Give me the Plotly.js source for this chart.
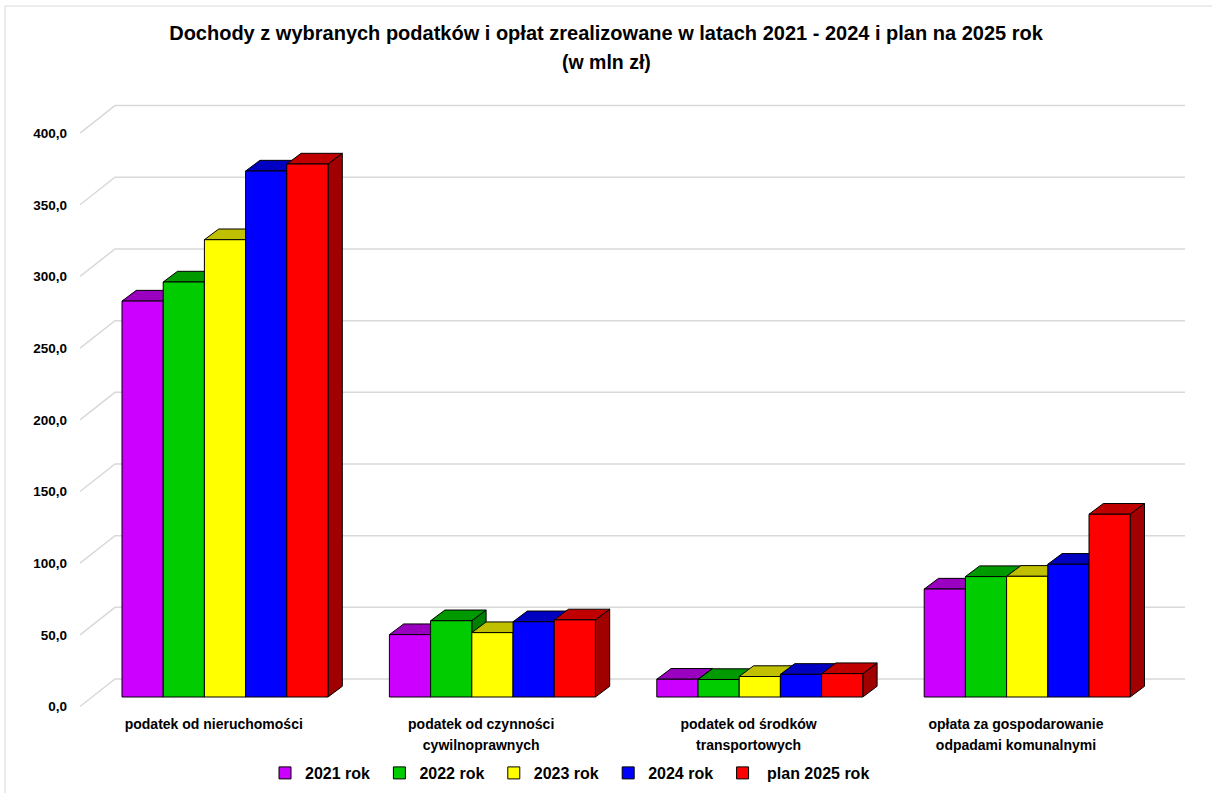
<!DOCTYPE html>
<html>
<head>
<meta charset="utf-8">
<script src="https://cdn.plot.ly/plotly-3.0.1.min.js"></script>
<style>
  html, body { margin: 0; padding: 0; background: #fff; }
  #chart { width: 1212px; height: 793px; }
</style>
</head>
<body>
<div id="chart"></div>
<script>
// ---------------- data ----------------
const categories = [
  'podatek od nieruchomości',
  'podatek od czynności cywilnoprawnych',
  'podatek od środków transportowych',
  'opłata za gospodarowanie odpadami komunalnymi'
];
const catLine1 = ['podatek od nieruchomości', 'podatek od czynności', 'podatek od środków', 'opłata za gospodarowanie'];
const catLine2 = ['', 'cywilnoprawnych', 'transportowych', 'odpadami komunalnymi'];

const seriesNames = ['2021 rok', '2022 rok', '2023 rok', '2024 rok', '\u00a0plan 2025 rok'];
const v2021 = [276.2, 43.5, 12.4, 75.3];
const v2022 = [289.5, 53.2, 12.2, 84.0];
const v2023 = [319.0, 44.9, 14.3, 84.2];
const v2024 = [366.9, 52.5, 15.8, 92.6];
const v2025 = [371.8, 53.8, 16.3, 127.5];
const seriesValues = [v2021, v2022, v2023, v2024, v2025];

const yTicks = [0, 50, 100, 150, 200, 250, 300, 350, 400];

// ---------------- styles / geometry ----------------
const frontColors = ['#CC00FF', '#00CC00', '#FFFF00', '#0000FF', '#FF0000'];
const topColors   = ['#9900BF', '#009900', '#C0C000', '#0000C0', '#C00000'];
const sideColors  = ['#80009F', '#008000', '#A0A000', '#0000A0', '#A00000'];
const FONT = 'Liberation Sans, Arial, sans-serif';

const W = 1212, H = 793;
const PL = 76, PR = 1190, PT = 90, PB = 712;      // plot area in px
const CAT_W = 267.4;                               // px per category
const CAT0 = 213.75;                               // px of first category centre (front plane)
const YS = 1.4335;                                 // px per unit
const ZERO_BAR = 697;                              // px of value 0 in bar plane

const xRange = [(PL - CAT0) / CAT_W, (PR - CAT0) / CAT_W];
const yRange = [(ZERO_BAR - PB) / YS, (ZERO_BAR - PT) / YS];

const BAR_DX = 11.25 / CAT_W;       // bar plane shift right vs front plane
const FRONT_DY = 9.5 / YS;          // front plane lower than bar plane
const BACK_DY = 18 / YS;            // back wall higher than bar plane
const FRONT_X = (80 - CAT0) / CAT_W;
const BACK_X = (115 - CAT0) / CAT_W;
const RIGHT_X = (1185 - CAT0) / CAT_W;
const BW = 41.2 / CAT_W;            // bar width
const DX = 14.3 / CAT_W;            // depth x
const DY = 10.7 / YS;               // depth y

const traces = [];

// gridlines (front slanted segment + back wall)
const gx = [], gy = [];
yTicks.forEach(v => {
  gx.push(FRONT_X, BACK_X, RIGHT_X, null);
  gy.push(v - FRONT_DY, v + BACK_DY, v + BACK_DY, null);
});
traces.push({
  type: 'scatter', mode: 'lines', x: gx, y: gy, xaxis: 'x', yaxis: 'y',
  line: { color: '#d9d9d9', width: 1.5 }, hoverinfo: 'skip', showlegend: false
});

// side faces
seriesValues.forEach((vals, k) => {
  vals.forEach((v, i) => {
    const x1 = i + BAR_DX + (k - 2.5) * BW + BW;
    traces.push({
      type: 'scatter', mode: 'lines', fill: 'toself', xaxis: 'x', yaxis: 'y',
      x: [x1, x1 + DX, x1 + DX, x1, x1],
      y: [0, DY, v + DY, v, 0],
      fillcolor: sideColors[k], line: { color: '#000', width: 1 },
      hoverinfo: 'skip', showlegend: false
    });
  });
});
// top faces
seriesValues.forEach((vals, k) => {
  vals.forEach((v, i) => {
    const x0 = i + BAR_DX + (k - 2.5) * BW;
    const x1 = x0 + BW;
    traces.push({
      type: 'scatter', mode: 'lines', fill: 'toself', xaxis: 'x', yaxis: 'y',
      x: [x0, x1, x1 + DX, x0 + DX, x0],
      y: [v, v, v + DY, v + DY, v],
      fillcolor: topColors[k], line: { color: '#000', width: 1 },
      hoverinfo: 'skip', showlegend: false
    });
  });
});
// front faces (real bars) on overlay subplot, drawn above faces
seriesValues.forEach((vals, k) => {
  traces.push({
    type: 'bar', name: seriesNames[k] + '\u00a0', xaxis: 'x2', yaxis: 'y2',
    x: categories.map((c, i) => i), y: vals,
    width: BW, offset: BAR_DX + (k - 2.5) * BW,
    marker: { color: frontColors[k], line: { color: '#000', width: 1 } },
    hovertext: categories, hoverinfo: 'text+y+name'
  });
});

const toPX = px => (px - PL) / (PR - PL);
const toPY = py => (PB - py) / (PB - PT);

const layout = {
  width: W, height: H,
  margin: { l: PL, r: W - PR, t: PT, b: H - PB, autoexpand: false },
  paper_bgcolor: '#fff', plot_bgcolor: 'rgba(0,0,0,0)',
  separators: ', ',
  barmode: 'overlay',
  showlegend: true,
  font: { family: FONT, color: '#000' },
  title: {
    text: 'Dochody z wybranych podatków i opłat zrealizowane w latach 2021 - 2024 i plan na 2025 rok',
    font: { family: FONT, size: 20, color: '#000', weight: 'bold' },
    x: 0.5, xref: 'container', xanchor: 'center',
    y: 1 - 33 / H, yref: 'container', yanchor: 'middle'
  },
  annotations: [{
    text: '(w mln zł)', showarrow: false,
    xref: 'paper', yref: 'paper', x: toPX(606), y: toPY(62),
    xanchor: 'center', yanchor: 'middle',
    font: { family: FONT, size: 19.5, color: '#000', weight: 'bold' }
  }],
  xaxis: {
    range: xRange, showgrid: false, zeroline: false, showline: false, ticks: '',
    tickmode: 'array', tickvals: categories.map((c, i) => i), ticktext: catLine1,
    tickfont: { family: FONT, size: 14, color: '#000', weight: 'bold' },
    ticklabelstandoff: 2, automargin: false, fixedrange: true
  },
  yaxis: {
    range: yRange, showgrid: false, zeroline: false, showline: false, ticks: '',
    tickmode: 'array', tickvals: yTicks.map(v => v - FRONT_DY),
    ticktext: yTicks.map(v => v.toFixed(1).replace('.', ',')),
    tickfont: { family: FONT, size: 13.5, color: '#000', weight: 'bold' },
    ticklabelstandoff: 8, automargin: false, fixedrange: true
  },
  xaxis2: {
    overlaying: 'x', anchor: 'y2', side: 'bottom',
    range: xRange, showgrid: false, zeroline: false, showline: false, ticks: '',
    tickmode: 'array', tickvals: categories.map((c, i) => i), ticktext: catLine2,
    tickfont: { family: FONT, size: 14, color: '#000', weight: 'bold' },
    ticklabelstandoff: 23, automargin: false, fixedrange: true
  },
  yaxis2: {
    overlaying: 'y', anchor: 'x2', range: yRange, visible: false, automargin: false, fixedrange: true
  },
  legend: {
    orientation: 'h', xref: 'container', yref: 'container',
    x: 265 / W, y: 1 - 773 / H, xanchor: 'left', yanchor: 'middle',
    font: { family: FONT, size: 16, color: '#000', weight: 'bold' },
    bgcolor: 'rgba(0,0,0,0)'
  },
  shapes: [{
    type: 'rect', xref: 'paper', yref: 'paper', layer: 'below',
    x0: toPX(5), x1: toPX(1230), y0: toPY(810), y1: toPY(6),
    line: { color: '#d9d9d9', width: 1 }, fillcolor: 'rgba(0,0,0,0)'
  }]
};

Plotly.newPlot('chart', traces, layout, { displayModeBar: false, staticPlot: true });
</script>
</body>
</html>
